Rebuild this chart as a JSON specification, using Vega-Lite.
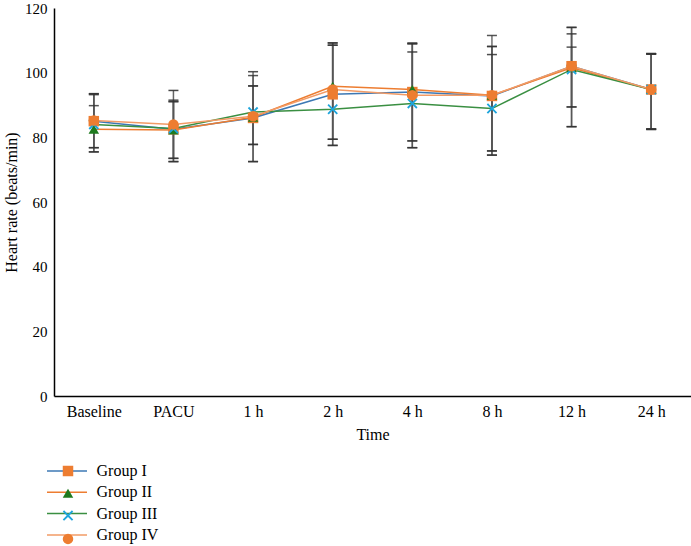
{
  "$schema": "https://vega.github.io/schema/vega-lite/v6.json",
  "width": 637,
  "height": 388,
  "autosize": "none",
  "padding": {"left": 54, "top": 8, "right": 0, "bottom": 150},
  "background": "white",
  "config": {
    "view": {"stroke": null},
    "font": "Liberation Serif",
    "axis": {"labelFont": "Liberation Serif", "titleFont": "Liberation Serif", "labelFontSize": 16, "titleFontSize": 16, "titleFontWeight": "normal", "labelColor": "#000", "titleColor": "#000", "domainColor": "#000", "domainWidth": 1.5, "ticks": false, "grid": false},
    "legend": {"labelFont": "Liberation Serif", "labelFontSize": 16, "labelColor": "#000", "padding": 0}
  },
  "data": {"values": [
    {"time": "Baseline", "group": "Group I", "series": "Group I", "mean": 85, "lo": 76.8, "hi": 93.5},
    {"time": "PACU", "group": "Group I", "series": "Group I", "mean": 82.5, "lo": 73.5, "hi": 91.1},
    {"time": "1 h", "group": "Group I", "series": "Group I", "mean": 86, "lo": 77.8, "hi": 95.9},
    {"time": "2 h", "group": "Group I", "series": "Group I", "mean": 93.3, "lo": 79.4, "hi": 108.5},
    {"time": "4 h", "group": "Group I", "series": "Group I", "mean": 94, "lo": 78.9, "hi": 109.2},
    {"time": "8 h", "group": "Group I", "series": "Group I", "mean": 92.8, "lo": 75.8, "hi": 108.1},
    {"time": "12 h", "group": "Group I", "series": "Group I", "mean": 102, "lo": 89.4, "hi": 114},
    {"time": "24 h", "group": "Group I", "series": "Group I", "mean": 94.8, "lo": 82.6, "hi": 105.9},
    {"time": "Baseline", "group": "Group II", "series": "Group II", "mean": 82.5, "lo": 75.5, "hi": 89.8},
    {"time": "PACU", "group": "Group II", "series": "Group II", "mean": 82.3, "lo": 72.5, "hi": 91.0},
    {"time": "1 h", "group": "Group II", "series": "Group II", "mean": 86.2, "lo": 72.5, "hi": 99.1},
    {"time": "2 h", "group": "Group II", "series": "Group II", "mean": 95.8, "lo": 77.5, "hi": 109.2},
    {"time": "4 h", "group": "Group II", "series": "Group II", "mean": 94.8, "lo": 78.9, "hi": 108.9},
    {"time": "8 h", "group": "Group II", "series": "Group II", "mean": 93, "lo": 74.5, "hi": 111.5},
    {"time": "12 h", "group": "Group II", "series": "Group II", "mean": 101.5, "lo": 89.4, "hi": 107.9},
    {"time": "24 h", "group": "Group II", "series": "Group II", "mean": 94.8, "lo": 82.4, "hi": 105.7},
    {"time": "Baseline", "group": "Group III", "series": "Group III", "mean": 84, "lo": 75.5, "hi": 93.2},
    {"time": "PACU", "group": "Group III", "series": "Group III", "mean": 82.7, "lo": 73.5, "hi": 91.5},
    {"time": "1 h", "group": "Group III", "series": "Group III", "mean": 87.8, "lo": 72.5, "hi": 100.3},
    {"time": "2 h", "group": "Group III", "series": "Group III", "mean": 88.7, "lo": 77.5, "hi": 108.5},
    {"time": "4 h", "group": "Group III", "series": "Group III", "mean": 90.5, "lo": 76.8, "hi": 106.4},
    {"time": "8 h", "group": "Group III", "series": "Group III", "mean": 88.9, "lo": 74.5, "hi": 105.6},
    {"time": "12 h", "group": "Group III", "series": "Group III", "mean": 101, "lo": 83.3, "hi": 112},
    {"time": "24 h", "group": "Group III", "series": "Group III", "mean": 94.8, "lo": 82.5, "hi": 105.8},
    {"time": "Baseline", "group": "Group IV", "series": "Group IV", "mean": 85.2, "lo": 76.8, "hi": 93.5},
    {"time": "PACU", "group": "Group IV", "series": "Group IV", "mean": 84, "lo": 72.5, "hi": 94.5},
    {"time": "1 h", "group": "Group IV", "series": "Group IV", "mean": 86.5, "lo": 77.8, "hi": 95.9},
    {"time": "2 h", "group": "Group IV", "series": "Group IV", "mean": 94.8, "lo": 79.4, "hi": 109.2},
    {"time": "4 h", "group": "Group IV", "series": "Group IV", "mean": 93, "lo": 76.8, "hi": 109},
    {"time": "8 h", "group": "Group IV", "series": "Group IV", "mean": 93, "lo": 75.8, "hi": 108.1},
    {"time": "12 h", "group": "Group IV", "series": "Group IV", "mean": 102, "lo": 83.3, "hi": 114},
    {"time": "24 h", "group": "Group IV", "series": "Group IV", "mean": 94.8, "lo": 82.6, "hi": 105.9}
  ]},
  "encoding": {
    "x": {
      "field": "time", "type": "nominal",
      "sort": ["Baseline", "PACU", "1 h", "2 h", "4 h", "8 h", "12 h", "24 h"],
      "scale": {"type": "point", "padding": 0.5},
      "axis": {"title": "Time", "labelAngle": 0, "labelPadding": 7, "titlePadding": 7}
    }
  },
  "layer": [
    {
      "mark": {"type": "rule", "strokeWidth": 1.5, "color": "#555555"},
      "encoding": {
        "y": {"field": "lo", "type": "quantitative", "scale": {"domain": [0, 120], "nice": false},
          "axis": {"title": "Heart rate (beats/min)", "values": [0, 20, 40, 60, 80, 100, 120], "labelPadding": 7, "titlePadding": 5, "labelFontSize": 15}},
        "y2": {"field": "hi"},
        "opacity": {"field": "group", "type": "nominal", "legend": null,
          "scale": {"domain": ["Group I", "Group II", "Group III", "Group IV"], "range": [0.8, 0.9, 0.6, 0.5]}}
      }
    },
    {
      "mark": {"type": "tick", "size": 10, "thickness": 1.5, "color": "#333333"},
      "encoding": {
        "y": {"field": "lo", "type": "quantitative"},
        "opacity": {"field": "group", "type": "nominal", "legend": null}
      }
    },
    {
      "mark": {"type": "tick", "size": 10, "thickness": 1.5, "color": "#333333"},
      "encoding": {
        "y": {"field": "hi", "type": "quantitative"},
        "opacity": {"field": "group", "type": "nominal", "legend": null}
      }
    },
    {
      "mark": {"type": "line", "strokeWidth": 1.5},
      "encoding": {
        "y": {"field": "mean", "type": "quantitative"},
        "stroke": {"field": "series", "type": "nominal",
          "scale": {"range": ["#3C78B4", "#ED7D31", "#3A8F42", "#F29B66"]},
          "legend": {"title": null, "orient": "none", "legendX": 5, "legendY": 455, "symbolType": "M-4,0L4,0", "symbolSize": 100, "symbolStrokeWidth": 1.5, "labelOffset": 21.5, "rowPadding": 5.3}}
      }
    },
    {
      "mark": {"type": "point", "filled": true, "opacity": 1, "size": 110},
      "encoding": {
        "y": {"field": "mean", "type": "quantitative"},
        "fill": {"field": "group", "type": "nominal",
          "scale": {"range": ["#ED7D31", "#1E7A1E", "#1EA5DC", "#ED7D31"]},
          "legend": {"title": null, "orient": "none", "legendX": 6, "legendY": 455, "symbolSize": 110, "labelExpr": "''", "labelOffset": 0, "rowPadding": 5.3}},
        "shape": {"field": "group", "type": "nominal",
          "scale": {"range": ["square", "triangle-up", "M-1,-0.75L-0.75,-1L0,-0.25L0.75,-1L1,-0.75L0.25,0L1,0.75L0.75,1L0,0.25L-0.75,1L-1,0.75L-0.25,0Z", "circle"]},
          "legend": {"title": null, "orient": "none", "legendX": 6, "legendY": 455, "symbolSize": 110, "labelExpr": "''", "labelOffset": 0, "rowPadding": 5.3}}
      }
    }
  ]
}
